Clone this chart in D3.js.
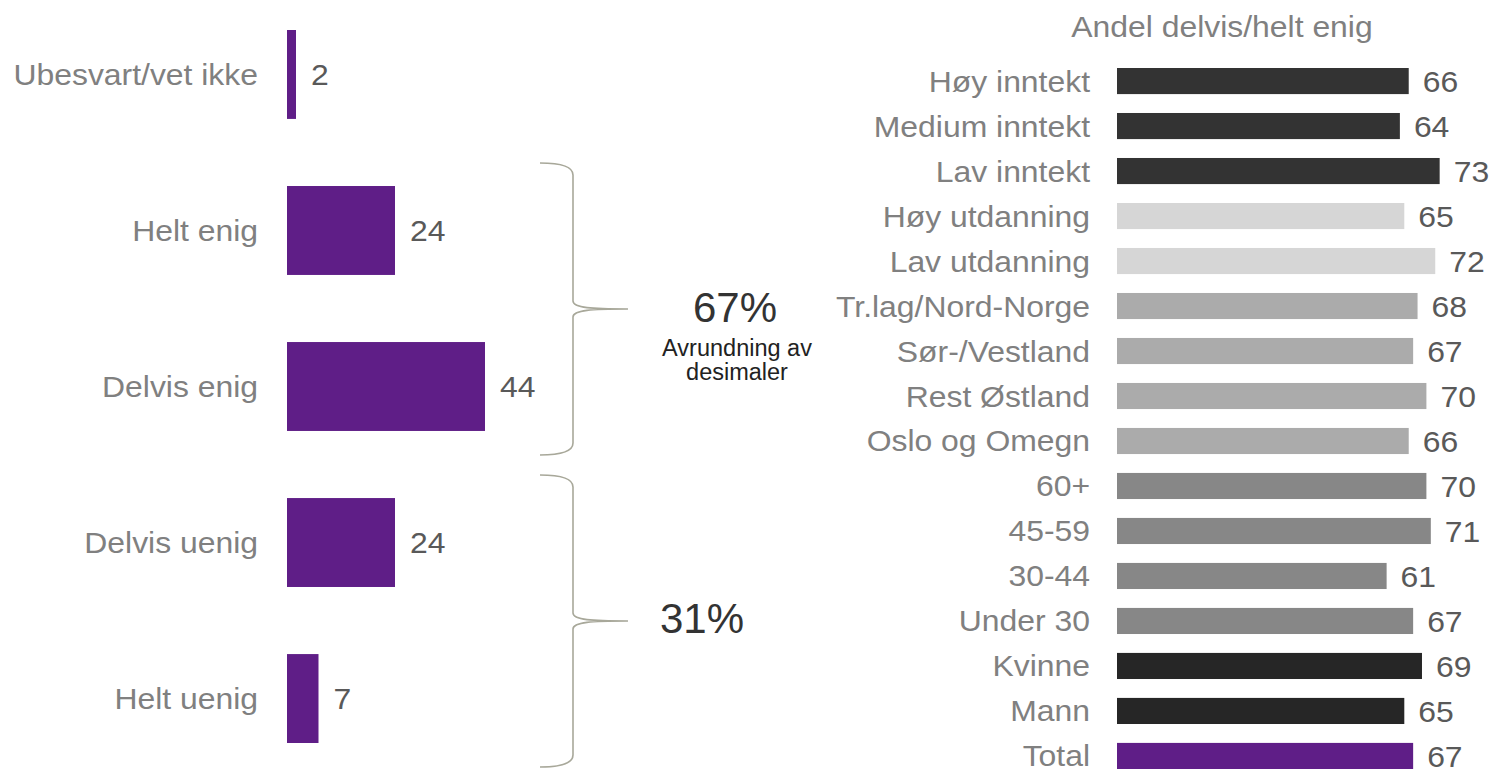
<!DOCTYPE html>
<html lang="en">
<head>
    <meta charset="UTF-8">
    <title>Andel delvis/helt enig</title>
    <script src="https://d3js.org/d3.v7.min.js"></script>
    <style>
        body { margin: 0; background: #fff; }
        text { font-family: "Liberation Sans", Arial, sans-serif; }
    </style>
</head>
<body>
    <div id="chart"></div>
    <script>
        // Left chart: answer distribution
        const answers = ["Ubesvart/vet ikke", "Helt enig", "Delvis enig", "Delvis uenig", "Helt uenig"];
        const answerValues = [2, 24, 44, 24, 7];

        // Summary braces
        const braceGroups = [["Helt enig", "Delvis enig"], ["Delvis uenig", "Helt uenig"]];
        const braceLabels = ["67%", "31%"];

        // Right chart: share partly/fully agreeing per group
        const groups = ["Høy inntekt", "Medium inntekt", "Lav inntekt", "Høy utdanning", "Lav utdanning",
            "Tr.lag/Nord-Norge", "Sør-/Vestland", "Rest Østland", "Oslo og Omegn",
            "60+", "45-59", "30-44", "Under 30", "Kvinne", "Mann", "Total"];
        const groupValues = [66, 64, 73, 65, 72, 68, 67, 70, 66, 70, 71, 61, 67, 69, 65, 67];
        const groupKinds = ["inntekt", "inntekt", "inntekt", "utdanning", "utdanning",
            "region", "region", "region", "region", "alder", "alder", "alder", "alder",
            "kjonn", "kjonn", "total"];

        const width = 1491, height = 769;
        const purple = "#5f1e87";
        const kindColor = d3.scaleOrdinal()
            .domain(["inntekt", "utdanning", "region", "alder", "kjonn", "total"])
            .range(["#333333", "#d6d6d6", "#ababab", "#878787", "#262626", purple]);

        // the labels in the original are a bit wider than plain Arial
        const stretch = 1.1;
        const fs = 29;

        const svg = d3.select("#chart").append("svg")
            .attr("width", width)
            .attr("height", height);

        // ---- left bars
        const xL = d3.scaleLinear().domain([0, 44]).range([287, 485]);
        const yL = d3.scaleBand().domain(answers).range([30, 743]).paddingInner(0.43);

        const left = answers.map((a, i) => ({name: a, value: answerValues[i]}));

        svg.append("g").selectAll("rect")
            .data(left).enter().append("rect")
            .attr("x", xL(0))
            .attr("y", d => yL(d.name))
            .attr("width", d => xL(d.value) - xL(0))
            .attr("height", yL.bandwidth())
            .attr("fill", purple);

        svg.append("g").selectAll("text")
            .data(left).enter().append("text")
            .attr("transform", d => `translate(258,${yL(d.name) + yL.bandwidth() / 2 + 10.5}) scale(${stretch},1)`)
            .attr("text-anchor", "end")
            .attr("font-size", fs)
            .attr("fill", "#808080")
            .text(d => d.name);

        svg.append("g").selectAll("text")
            .data(left).enter().append("text")
            .attr("transform", d => `translate(${xL(d.value) + 15},${yL(d.name) + yL.bandwidth() / 2 + 10.5}) scale(${stretch},1)`)
            .attr("font-size", fs)
            .attr("fill", "#595959")
            .text(d => d.value);

        // ---- braces
        const bx = 573, bl = 540, tip = 628;
        braceGroups.forEach((g, i) => {
            const y0 = yL(g[0]) - 23;
            const y1 = yL(g[1]) + yL.bandwidth() + 24;
            const mid = (y0 + y1) / 2;
            const p = d3.path();
            p.moveTo(bl, y0);
            p.quadraticCurveTo(bx, y0, bx, y0 + 12);
            p.lineTo(bx, mid - 8);
            p.bezierCurveTo(bx, mid - 1, 592, mid, tip, mid);
            p.bezierCurveTo(592, mid, bx, mid + 1, bx, mid + 8);
            p.lineTo(bx, y1 - 12);
            p.quadraticCurveTo(bx, y1, bl, y1);
            svg.append("path")
                .attr("d", p.toString())
                .attr("fill", "none")
                .attr("stroke", "#a8a89a")
                .attr("stroke-width", 1.6);

            svg.append("text")
                .attr("x", i === 0 ? 735 : 702)
                .attr("y", mid + (i === 0 ? 13 : 12))
                .attr("text-anchor", "middle")
                .attr("font-size", 42)
                .attr("fill", "#333")
                .text(braceLabels[i]);

            if (i === 0) {
                const note = svg.append("text")
                    .attr("text-anchor", "middle")
                    .attr("font-size", 23.5)
                    .attr("fill", "#222");
                note.append("tspan").attr("x", 737).attr("y", mid + 47).text("Avrundning av");
                note.append("tspan").attr("x", 737).attr("y", mid + 71).text("desimaler");
            }
        });

        // ---- right bars
        const xR = d3.scaleLinear().domain([0, 73]).range([1117, 1117 + 73 * 4.42]);
        const yR = d3.scaleBand().domain(groups).range([68, 769]).paddingInner(0.42);

        const right = groups.map((g, i) => ({name: g, value: groupValues[i], kind: groupKinds[i]}));

        svg.append("text")
            .attr("transform", `translate(1222,37) scale(${stretch},1)`)
            .attr("text-anchor", "middle")
            .attr("font-size", fs)
            .attr("fill", "#808080")
            .text("Andel delvis/helt enig");

        svg.append("g").selectAll("rect")
            .data(right).enter().append("rect")
            .attr("x", xR(0))
            .attr("y", d => yR(d.name))
            .attr("width", d => xR(d.value) - xR(0))
            .attr("height", yR.bandwidth())
            .attr("fill", d => kindColor(d.kind));

        svg.append("g").selectAll("text")
            .data(right).enter().append("text")
            .attr("transform", d => `translate(1090,${yR(d.name) + yR.bandwidth() / 2 + 10.5}) scale(${stretch},1)`)
            .attr("text-anchor", "end")
            .attr("font-size", fs)
            .attr("fill", "#808080")
            .text(d => d.name);

        svg.append("g").selectAll("text")
            .data(right).enter().append("text")
            .attr("transform", d => `translate(${xR(d.value) + 14},${yR(d.name) + yR.bandwidth() / 2 + 11}) scale(${stretch},1)`)
            .attr("font-size", fs)
            .attr("fill", "#595959")
            .text(d => d.value);
    </script>
</body>
</html>
